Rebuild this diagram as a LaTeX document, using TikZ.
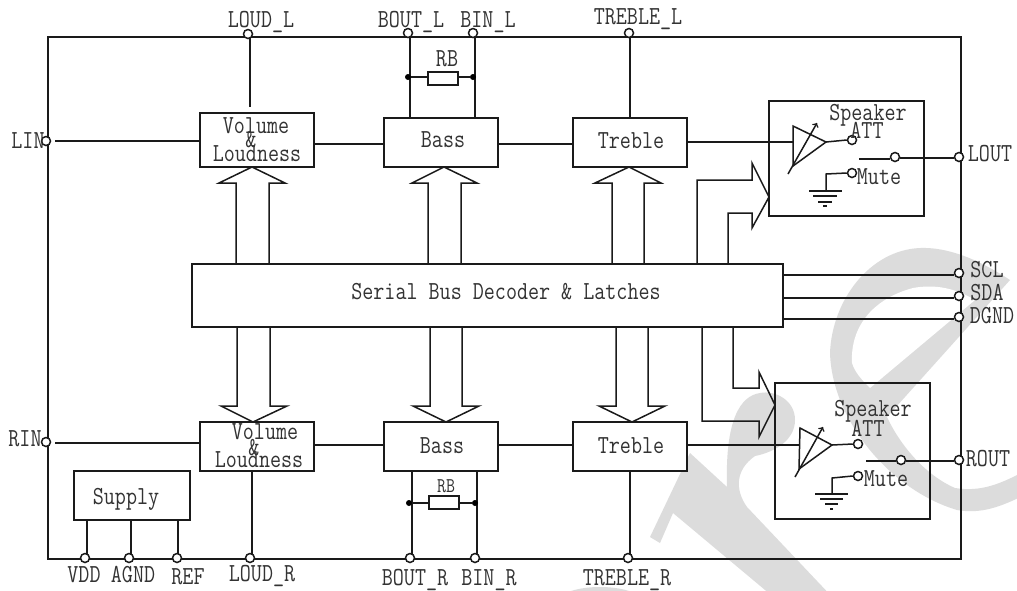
\documentclass[tikz,border=0pt]{standalone}
\usepackage{fontspec}
\newfontfamily\dfont[FakeStretch=0.825]{Latin Modern Mono}
\usetikzlibrary{calc}
\definecolor{wm}{HTML}{DCDCDC}
\definecolor{ink}{HTML}{1A1A1A}
\definecolor{txt}{HTML}{333333}
\tikzset{
  wire/.style={draw=ink,line width=1.5pt},
  boxn/.style={draw=ink,line width=1.5pt,fill=white,inner sep=0pt,outer sep=0pt,rectangle},
  pin/.style={circle,draw=ink,line width=1.5pt,fill=white,inner sep=0pt,minimum size=9pt},
  dotn/.style={circle,fill=black,inner sep=0pt,minimum size=6pt},
  lbl/.style={inner sep=0pt,text=txt,font=\dfont\fontsize{26}{26}\selectfont,text height=16pt,text depth=0pt},
  slbl/.style={inner sep=0pt,text=txt,font=\dfont\fontsize{21}{21}\selectfont,text height=13pt,text depth=0pt},
}
\begin{document}
\begin{tikzpicture}[x=1pt,y=-1pt]
\useasboundingbox (0,0) rectangle (1017,590);
\fill[white] (0,0) rectangle (1017,590);
% watermark
\begin{scope}
\clip (0,0) rectangle (1017,590);
\fill[wm] (1010,280) .. controls (975,257) and (945,247) .. (920,248)
  .. controls (870,250) and (832,300) .. (830,353)
  .. controls (832,420) and (890,490) .. (957,510)
  .. controls (980,514) and (1000,508) .. (1030,492)
  -- (1030,468) .. controls (1000,485) and (980,492) .. (955,488)
  .. controls (925,475) and (900,445) .. (887,417)
  -- cycle;
\fill[white] (975,300) .. controls (955,288) and (935,284) .. (913,288)
  .. controls (875,298) and (850,325) .. (852,363)
  .. controls (855,372) and (860,378) .. (870,388) -- cycle;
\fill[wm] (690,453) -- (650,537) -- (660,543) -- (673,513) -- (777,600) -- (835,600)
  -- (747,507) .. controls (735,490) and (735,470) .. (755,456)
  .. controls (775,452) and (795,440) .. (795,420)
  .. controls (795,400) and (775,390) .. (760,393)
  .. controls (740,396) and (725,420) .. (727,487) -- cycle;
\fill[wm] (600,600) ellipse (40 and 13);
\end{scope}
% outer frame
\draw[wire] (48,37) rectangle (961,559);
% boxes
\node[boxn,minimum width=114pt,minimum height=54pt] (vt) at (257,140) {};
\node[boxn,minimum width=114pt,minimum height=49pt] (bt) at (441,142.5) {};
\node[boxn,minimum width=114pt,minimum height=49pt] (tt) at (630,142.5) {};
\node[boxn,minimum width=114pt,minimum height=49pt] (vb) at (257,446.5) {};
\node[boxn,minimum width=114pt,minimum height=49pt] (bb) at (441,446.5) {};
\node[boxn,minimum width=114pt,minimum height=49pt] (tb) at (630,446.5) {};
\node[boxn,minimum width=591pt,minimum height=63pt] (bus) at (487.5,295.5) {};
\node[boxn,minimum width=116pt,minimum height=49pt] (sup) at (132,495.5) {};
\node[boxn,fill=none,minimum width=155pt,minimum height=115pt] (at) at (846.5,158.5) {};
\node[boxn,fill=none,minimum width=155pt,minimum height=136pt] (ab) at (852.5,451) {};
% pins
\node[pin] (lin) at (46,141) {};
\node[pin] (rin) at (46,442) {};
\node[pin] (loudl) at (248,34) {};
\node[pin] (boutl) at (408,33) {};
\node[pin] (binl) at (473,33) {};
\node[pin] (trel) at (629,33) {};
\node[pin] (vdd) at (85,558) {};
\node[pin] (agnd) at (129,558) {};
\node[pin] (refp) at (177,558) {};
\node[pin] (loudr) at (250,558) {};
\node[pin] (boutr) at (410,558) {};
\node[pin] (binr) at (475,558) {};
\node[pin] (trer) at (628,558) {};
\node[pin] (lout) at (959,157) {};
\node[pin] (scl) at (959,273) {};
\node[pin] (sda) at (959,296) {};
\node[pin] (dgnd) at (959,317) {};
\node[pin] (rout) at (959,460) {};
% pin wires
\draw[wire] (lin.east)++(4,0) -- (vt.west |- lin);
\draw[wire] (rin.east)++(4,1) -- (vb.west |- 0,443);
\draw[wire] (250,38) -- (250,107);
\draw[wire] (410,37) -- (410,0 |- bt.north);
\draw[wire] (475,37) -- (475,0 |- bt.north);
\draw[wire] (630,37) -- (630,0 |- tt.north);
\draw[wire] (252,0 |- vb.south) -- (252,554);
\draw[wire] (412,0 |- bb.south) -- (412,554);
\draw[wire] (477,0 |- bb.south) -- (477,554);
\draw[wire] (630,0 |- tb.south) -- (630,554);
\draw[wire] (87,0 |- sup.south) -- (87,554);
\draw[wire] (131,0 |- sup.south) -- (131,554);
\draw[wire] (178,0 |- sup.south) -- (178,554);
\draw[wire] (vt.east |- 0,144) -- (bt.west |- 0,144);
\draw[wire] (bt.east |- 0,144) -- (tt.west |- 0,144);
\draw[wire] (vb.east |- 0,445) -- (bb.west |- 0,445);
\draw[wire] (bb.east |- 0,445) -- (tb.west |- 0,445);
\draw[wire] (bus.east |- 0,275) -- (scl.west |- 0,275);
\draw[wire] (bus.east |- 0,298) -- (sda.west |- 0,298);
\draw[wire] (bus.east |- 0,319) -- (dgnd.west |- 0,319);
% resistors
\node[dotn] (d1) at (408,77) {};
\node[dotn] (d2) at (473,77) {};
\node[boxn,minimum width=30pt,minimum height=13pt] (r1) at (443,78.5) {};
\draw[wire] (d1) -- (r1.west |- d1) (r1.east |- d2) -- (d2);
\node[dotn] (d3) at (409,503) {};
\node[dotn] (d4) at (475,503) {};
\node[boxn,minimum width=30pt,minimum height=13pt] (r2) at (444,502.5) {};
\draw[wire] (d3) -- (r2.west |- d3) (r2.east |- d4) -- (d4);
% vertical bus arrows
\draw[wire] (236,0 |- bus.north) -- (236,183) -- (219,183) -- (252,0 |- vt.south) -- (285,183) -- (269,183) -- (269,0 |- bus.north);
\draw[wire] (428,0 |- bus.north) -- (428,183) -- (412,183) -- (444,0 |- bt.south) -- (477,183) -- (461,183) -- (461,0 |- bus.north);
\draw[wire] (612,0 |- bus.north) -- (612,183) -- (595,183) -- (629,0 |- tt.south) -- (661,183) -- (644,183) -- (644,0 |- bus.north);
\draw[wire] (237,0 |- bus.south) -- (237,406) -- (221,406) -- (253,0 |- vb.north) -- (287,406) -- (270,406) -- (270,0 |- bus.south);
\draw[wire] (430,0 |- bus.south) -- (430,406) -- (413,406) -- (446,0 |- bb.north) -- (479,406) -- (462,406) -- (462,0 |- bus.south);
\draw[wire] (616,0 |- bus.south) -- (616,406) -- (599,406) -- (632,0 |- tb.north) -- (665,406) -- (648,406) -- (648,0 |- bus.south);
% horizontal bus arrows
\draw[wire] (697,0 |- bus.north) -- (697,180) -- (752,180) -- (752,163) -- (at.west |- 0,197) -- (752,228) -- (752,213) -- (728,213) -- (728,0 |- bus.north);
\draw[wire] (702,0 |- bus.south) -- (702,421) -- (759,421) -- (759,437) -- (ab.west |- 0,405) -- (759,372) -- (759,388) -- (733,388) -- (733,0 |- bus.south);
% top amp
\coordinate (ta) at (826,142);
\draw[wire] (tt.east |- ta) -- (793,142);
\draw[wire,line join=miter] (793,126) -- (ta) -- (793,166) -- cycle;
\draw[wire,->] (788,174) -- (817,123);
\node[pin] (s1) at (852,140) {};
\node[pin] (s2) at (895,157) {};
\node[pin] (s3) at (852,173) {};
\coordinate (sw1) at (859,159);
\draw[wire] (ta) -- (s1.west);
\draw[wire] (sw1) -- (s2.west |- sw1);
\draw[wire] (s2.east |- 0,158) -- (lout.west |- 0,158);
\draw[wire] (s3.west) -- (826,174) -- (826,191);
\draw[wire] (809,191) -- (842,191) (813,196) -- (837,196) (818,202) -- (832,202) (823,206) -- (827,206);
% bottom amp
\coordinate (tb2) at (832,445);
\draw[wire] (tb.east |- tb2) -- (800,445);
\draw[wire,line join=miter] (800,428) -- (tb2) -- (799,469) -- cycle;
\draw[wire,->] (795,477) -- (823,427);
\node[pin] (s4) at (858,444) {};
\node[pin] (s5) at (901,460) {};
\node[pin] (s6) at (858,476) {};
\coordinate (sw2) at (866,461);
\draw[wire] (tb2) -- (s4.west);
\draw[wire] (sw2) -- (s5.west |- sw2);
\draw[wire] (s5.east |- 0,461) -- (rout.west |- 0,461);
\draw[wire] (s6.west) -- (832,478) -- (832,494);
\draw[wire] (815,494) -- (848,494) (820,499) -- (843,499) (825,504) -- (838,504) (830,509) -- (833,509);
% text
\node[lbl] (tLoudL) at (261,19) {LOUD\_L};
\node[lbl] (tBoutL) at (411,19) {BOUT\_L};
\node[lbl] (tBinL) at (488,19) {BIN\_L};
\node[lbl] (tTreL) at (638,16) {TREBLE\_L};
\node[lbl] (tRB) at (447,58) {RB};
\node[slbl] (tRB2) at (446,486) {RB};
\node[lbl] (tLin) at (28,140) {LIN};
\node[lbl] (tRin) at (25,438) {RIN};
\node[lbl] (t1) at (256,125) {Volume};
\node[lbl] (t2) at (251,139) {\&};
\node[lbl] (t3) at (257,153) {Loudness};
\node[lbl] (t4) at (265,431) {Volume};
\node[lbl] (t5) at (254,447) {\&};
\node[lbl] (t6) at (259,459) {Loudness};
\node[lbl] (t7) at (443,139) {Bass};
\node[lbl] (t8) at (631,140) {Treble};
\node[lbl] (t9) at (442,445) {Bass};
\node[lbl] (t10) at (631,445) {Treble};
\node[lbl] (t11) at (506,291) {Serial Bus Decoder \& Latches};
\node[lbl] (t12) at (126,496) {Supply};
\node[lbl] (t13) at (868,112) {Speaker};
\node[lbl] (t14) at (867,130) {ATT};
\node[lbl] (t15) at (879,176) {Mute};
\node[lbl] (t16) at (873,408) {Speaker};
\node[lbl] (t17) at (868,428) {ATT};
\node[lbl] (t18) at (886,478) {Mute};
\node[lbl] (t19) at (990,153) {LOUT};
\node[lbl] (t20) at (988,458) {ROUT};
\node[lbl] (t21) at (987,269) {SCL};
\node[lbl] (t22) at (987,292) {SDA};
\node[lbl] (t23) at (992,315) {DGND};
\node[lbl] (t24) at (84,574) {VDD};
\node[lbl] (t25) at (133,574) {AGND};
\node[lbl] (t26) at (188,576) {REF};
\node[lbl] (t27) at (262,573) {LOUD\_R};
\node[lbl] (t28) at (415,577) {BOUT\_R};
\node[lbl] (t29) at (489,577) {BIN\_R};
\node[lbl] (t30) at (627,577) {TREBLE\_R};
\end{tikzpicture}
\end{document}
